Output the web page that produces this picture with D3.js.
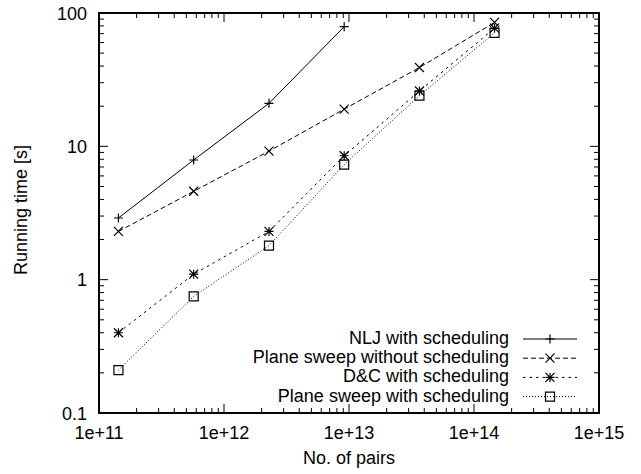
<!DOCTYPE html>
<html>
<head>
<meta charset="utf-8" />
<title>Running time</title>
<script src="https://d3js.org/d3.v7.min.js"></script>
<style>
  body { margin: 0; background: #fff; }
  text { font-family: "Liberation Sans", Arial, sans-serif; fill: #000; }
</style>
</head>
<body>
<svg id="chart"></svg>
<script>
// data
var pairs = [1.43e11, 5.72e11, 2.29e12, 9.15e12, 3.66e13, 1.46e14];
var nlj = [2.9, 7.9, 21, 79];
var sweepNoSched = [2.3, 4.6, 9.2, 19, 39, 85];
var dcSched = [0.4, 1.1, 2.3, 8.5, 26, 77];
var sweepSched = [0.21, 0.75, 1.8, 7.3, 24, 71];
var seriesNames = ["NLJ with scheduling", "Plane sweep without scheduling", "D&C with scheduling", "Plane sweep with scheduling"];
var xTicks = [1e11, 1e12, 1e13, 1e14, 1e15];
var xTickLabels = ["1e+11", "1e+12", "1e+13", "1e+14", "1e+15"];
var yTicks = [0.1, 1, 10, 100];
var yTickLabels = ["0.1", "1", "10", "100"];

var width = 641, height = 474;
var margin = {top: 13, right: 42, bottom: 61, left: 99};
var fontSize = 18;

var svg = d3.select("#chart").attr("width", width).attr("height", height);

var x = d3.scaleLog().domain([1e11, 1e15]).range([margin.left, width - margin.right]);
var y = d3.scaleLog().domain([0.1, 100]).range([height - margin.bottom, margin.top]);

var x0 = x.range()[0], x1 = x.range()[1];
var y0 = y.range()[0], y1 = y.range()[1];

// minor ticks 2..9 per decade
function minors(lo, hi) {
  var out = [];
  for (var d = lo; d < hi; d *= 10) {
    for (var m = 2; m <= 9; m++) out.push(d * m);
  }
  return out;
}

var ticks = svg.append("g").attr("stroke", "#000").attr("stroke-width", 1);
var majorLen = 9, minorLen = 5;

xTicks.forEach(function(t) {
  ticks.append("line").attr("x1", x(t)).attr("x2", x(t)).attr("y1", y0).attr("y2", y0 - majorLen);
  ticks.append("line").attr("x1", x(t)).attr("x2", x(t)).attr("y1", y1).attr("y2", y1 + majorLen);
});
minors(1e11, 1e15).forEach(function(t) {
  ticks.append("line").attr("x1", x(t)).attr("x2", x(t)).attr("y1", y0).attr("y2", y0 - minorLen);
  ticks.append("line").attr("x1", x(t)).attr("x2", x(t)).attr("y1", y1).attr("y2", y1 + minorLen);
});
yTicks.forEach(function(t) {
  ticks.append("line").attr("y1", y(t)).attr("y2", y(t)).attr("x1", x0).attr("x2", x0 + majorLen);
  ticks.append("line").attr("y1", y(t)).attr("y2", y(t)).attr("x1", x1).attr("x2", x1 - majorLen);
});
minors(0.1, 100).forEach(function(t) {
  ticks.append("line").attr("y1", y(t)).attr("y2", y(t)).attr("x1", x0).attr("x2", x0 + minorLen);
  ticks.append("line").attr("y1", y(t)).attr("y2", y(t)).attr("x1", x1).attr("x2", x1 - minorLen);
});

// border
svg.append("rect")
  .attr("x", x0).attr("y", y1)
  .attr("width", x1 - x0).attr("height", y0 - y1)
  .attr("fill", "none").attr("stroke", "#000").attr("stroke-width", 2);

// tick labels
svg.append("g").selectAll("text").data(xTicks).enter().append("text")
  .attr("x", function(d) { return x(d); })
  .attr("y", y0 + 26)
  .attr("text-anchor", "middle")
  .attr("font-size", fontSize)
  .text(function(d, i) { return xTickLabels[i]; });

svg.append("g").selectAll("text").data(yTicks).enter().append("text")
  .attr("x", x0 - 12)
  .attr("y", function(d) { return y(d) + 6.5; })
  .attr("text-anchor", "end")
  .attr("font-size", fontSize)
  .text(function(d, i) { return yTickLabels[i]; });

// axis titles
svg.append("text")
  .attr("x", (x0 + x1) / 2).attr("y", y0 + 51)
  .attr("text-anchor", "middle").attr("font-size", fontSize)
  .text("No. of pairs");
svg.append("text")
  .attr("transform", "translate(27," + ((y0 + y1) / 2 - 3) + ") rotate(-90)")
  .attr("text-anchor", "middle").attr("font-size", fontSize)
  .text("Running time [s]");

// series
var series = [
  {name: seriesNames[0], values: nlj, dash: null, marker: "plus"},
  {name: seriesNames[1], values: sweepNoSched, dash: "5,3", marker: "cross"},
  {name: seriesNames[2], values: dcSched, dash: "2.5,4", marker: "star"},
  {name: seriesNames[3], values: sweepSched, dash: "1,2", marker: "square"}
];

var line = d3.line()
  .x(function(d) { return x(d[0]); })
  .y(function(d) { return y(d[1]); });

function drawMarker(g, kind, cx, cy) {
  var s = 4.5;
  var p = "";
  if (kind === "plus" || kind === "star") {
    p += "M" + (cx - s) + "," + cy + "H" + (cx + s) + "M" + cx + "," + (cy - s) + "V" + (cy + s);
  }
  if (kind === "cross" || kind === "star") {
    p += "M" + (cx - s) + "," + (cy - s) + "L" + (cx + s) + "," + (cy + s) +
         "M" + (cx - s) + "," + (cy + s) + "L" + (cx + s) + "," + (cy - s);
  }
  if (kind === "square") {
    p += "M" + (cx - s) + "," + (cy - s) + "h" + (2 * s) + "v" + (2 * s) + "h" + (-2 * s) + "Z";
  }
  g.append("path").attr("d", p).attr("fill", "none").attr("stroke", "#000").attr("stroke-width", 1.2);
}

var plot = svg.append("g");
series.forEach(function(s) {
  var pts = s.values.map(function(v, i) { return [pairs[i], v]; });
  plot.append("path")
    .datum(pts)
    .attr("d", line)
    .attr("fill", "none")
    .attr("stroke", "#000")
    .attr("stroke-width", 1)
    .attr("stroke-dasharray", s.dash);
  pts.forEach(function(p) { drawMarker(plot, s.marker, x(p[0]), y(p[1])); });
});

// legend
var legend = svg.append("g");
series.forEach(function(s, i) {
  var ly = 339 + i * 19.2;
  legend.append("text")
    .attr("x", 509).attr("y", ly + 5)
    .attr("text-anchor", "end").attr("font-size", fontSize)
    .text(s.name);
  legend.append("line")
    .attr("x1", 523).attr("x2", 577).attr("y1", ly).attr("y2", ly)
    .attr("stroke", "#000").attr("stroke-width", 1)
    .attr("stroke-dasharray", s.dash);
  drawMarker(legend, s.marker, 550, ly);
});
</script>
</body>
</html>
